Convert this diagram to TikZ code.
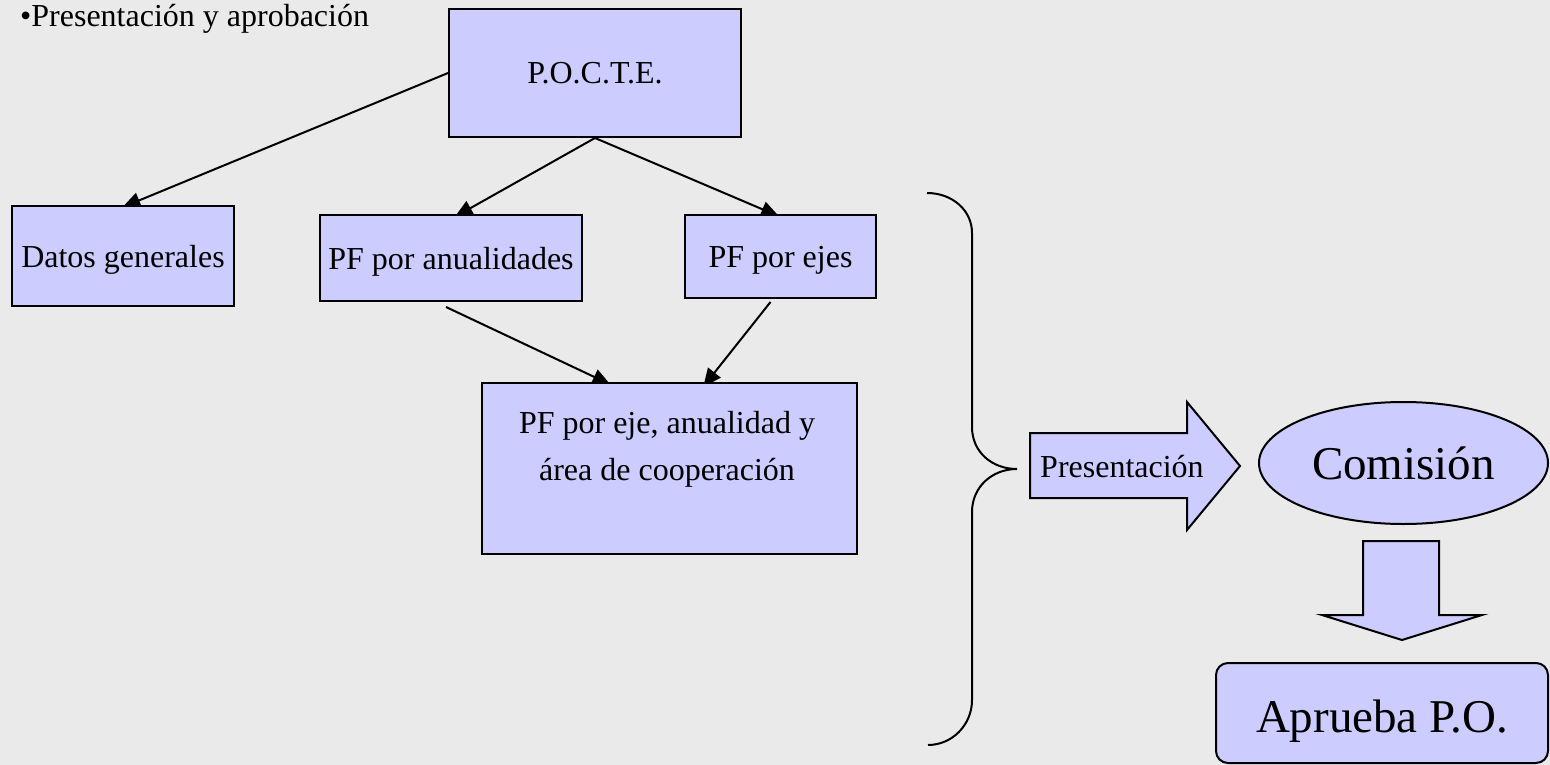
\documentclass[tikz,border=0pt]{standalone}
\usepackage{fontspec}
\setmainfont{Liberation Serif}
\usetikzlibrary{arrows.meta,shapes.geometric}
\definecolor{bgc}{HTML}{EAEAEA}
\definecolor{boxc}{HTML}{CCCCFF}
\pgfdeclarelayer{back}
\pgfsetlayers{back,main}
\begin{document}
\begin{tikzpicture}[x=1pt,y=-1pt,
  box/.style={draw=black, line width=2pt, fill=boxc, inner sep=0pt},
  mtxt/.style={font=\fontsize{32}{38}\selectfont, text height=22pt, text depth=0pt},
  btxt/.style={font=\fontsize{47}{56}\selectfont, text depth=0pt},
  conn/.style={line width=2pt, -{Triangle[length=18pt,width=16pt]}, shorten >=-6pt},
  outline/.style={draw=black, line width=2pt},
]
\begin{pgfonlayer}{back}
\fill[bgc] (0,0) rectangle (1550,765);
\end{pgfonlayer}
\useasboundingbox (0,0) rectangle (1550,765);

% title
\node[anchor=base west, inner sep=0pt, font=\fontsize{32}{38}\selectfont] (title) at (20,27) {•Presentación y aprobación};

% boxes
\node[box, mtxt, minimum width=292pt, minimum height=128pt] (pocte) at (595,73) {P.O.C.T.E.};
\node[box, mtxt, minimum width=222pt, minimum height=100pt] (datos) at (123,256) {Datos generales};
\node[box, mtxt, minimum width=262pt, minimum height=86pt] (pfan) at (451,258) {PF por anualidades};
\node[box, mtxt, minimum width=191pt, minimum height=83pt] (pfejes) at (780.5,256.5) {PF por ejes};
\node[box, minimum width=375pt, minimum height=171pt] (big) at (669.5,468.5) {};
\node[align=center, inner sep=0pt, font=\fontsize{32}{47}\selectfont] (bigtxt) at (667,449) {PF por eje, anualidad y\\área de cooperación};

% connectors
\begin{pgfonlayer}{back}
\draw[conn] (pocte.west) -- ([xshift=5pt]datos.north);
\draw[conn] (pocte.south) -- ([xshift=9pt]pfan.north);
\draw[conn] (pocte.south) -- ([xshift=-7pt]pfejes.north);
\draw[conn] ([xshift=-5pt,yshift=-5pt]pfan.south) -- ([xshift=-64.5pt]big.north);
\draw[conn] ([xshift=-10pt,yshift=-3pt]pfejes.south) -- ([xshift=37.5pt]big.north);
\end{pgfonlayer}

% brace
\draw[line width=2pt] (927,193) .. controls (952,193) and (972,210) .. (972,233)
  -- (972,427) .. controls (972,452) and (992,469) .. (1017,469)
  .. controls (992,469) and (972,487) .. (972,512)
  -- (972,700) .. controls (972,725) and (952,745) .. (928,745);

% presentation block arrow
\draw[outline, fill=boxc] (1030,433) -- (1187,433) -- (1187,402) -- (1240,466) -- (1187,530) -- (1187,498) -- (1030,498) -- cycle;
\node[anchor=base west, inner sep=0pt, font=\fontsize{32}{38}\selectfont] (pres) at (1040,477) {Presentación};

% comision
\node[box, ellipse, btxt, text height=32pt, minimum width=289pt, minimum height=122pt] (com) at (1403.5,463) {Comisión};

% down block arrow
\draw[outline, fill=boxc] (1363,541) -- (1439,541) -- (1439,615) -- (1482,615) -- (1402,640) -- (1322,615) -- (1363,615) -- cycle;

% aprueba
\node[box, btxt, text height=38pt, rounded corners=12pt, minimum width=332pt, minimum height=100pt] (apr) at (1382,713) {Aprueba P.O.};
\end{tikzpicture}
\end{document}
